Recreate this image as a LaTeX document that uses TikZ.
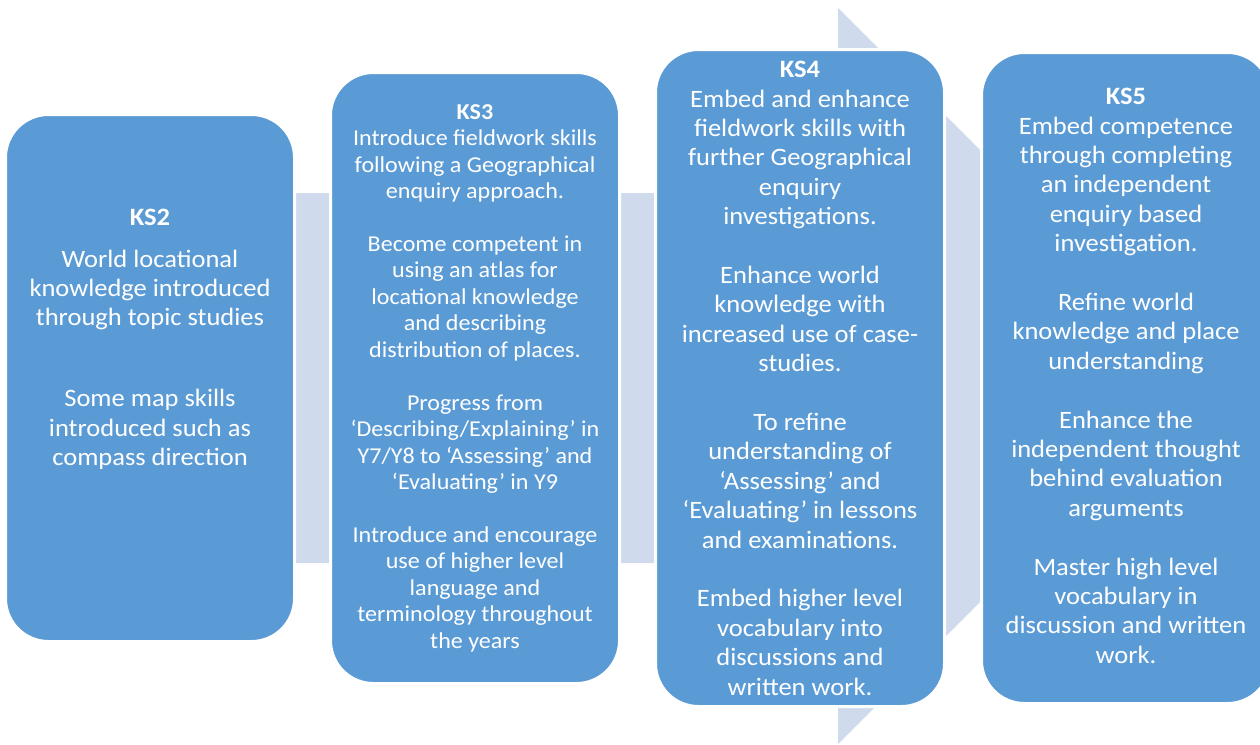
\documentclass[tikz,border=0pt]{standalone}
\usepackage{fontspec}
\setmainfont{Carlito}[FakeStretch=1.06]
\definecolor{boxblue}{HTML}{5B9BD5}
\definecolor{arrowblue}{HTML}{CFDAEC}
\tikzset{
  ksbox/.style={rectangle, fill=boxblue, draw=white, line width=3pt, rounded corners=43pt, minimum width=289pt, inner sep=0pt},
  kstext/.style={anchor=north, inner sep=0pt, align=center, text=white},
  bigfont/.style={font=\fontsize{25}{29.4}\selectfont},
  smallfont/.style={font=\fontsize{22.7}{26.5}\selectfont},
}
\begin{document}
\begin{tikzpicture}[x=1pt,y=-1pt]
\useasboundingbox (0,0) rectangle (1260,744);
\clip (0,0) rectangle (1260,744);
\fill[arrowblue] (60,193) -- (838,193) -- (838,8) -- (1206,376) -- (838,744) -- (838,563) -- (60,563) -- cycle;

\node[ksbox, minimum height=527pt] (b2) at (150,378) {};
\node[ksbox, minimum height=611pt] (b3) at (475,378) {};
\node[ksbox, minimum height=657pt] (b4) at (800,378) {};
\node[ksbox, minimum height=651pt] (b5) at (1126,378) {};

\node[kstext, bigfont] (t2) at (150,209) {\textbf{KS2}\\[12pt]
World locational\\
knowledge introduced\\
through topic studies\\[51.5pt]
Some map skills\\
introduced such as\\
compass direction};

\node[kstext, smallfont] (t3) at (475,104) {\textbf{KS3}\\
Introduce fieldwork skills\\
following a Geographical\\
enquiry approach.\\[26.3pt]
Become competent in\\
using an atlas for\\
locational knowledge\\
and describing\\
distribution of places.\\[26.3pt]
Progress from\\
‘Describing/Explaining’ in\\
Y7/Y8 to ‘Assessing’ and\\
‘Evaluating’ in Y9\\[26.3pt]
Introduce and encourage\\
use of higher level\\
language and\\
terminology throughout\\
the years};

\node[kstext, bigfont] (t4) at (800,61) {\textbf{KS4}\\
Embed and enhance\\
fieldwork skills with\\
further Geographical\\
enquiry\\
investigations.\\[29.4pt]
Enhance world\\
knowledge with\\
increased use of case-\\
studies.\\[29.4pt]
To refine\\
understanding of\\
‘Assessing’ and\\
‘Evaluating’ in lessons\\
and examinations.\\[29.4pt]
Embed higher level\\
vocabulary into\\
discussions and\\
written work.};

\node[kstext, bigfont] (t5) at (1126,88) {\textbf{KS5}\\
Embed competence\\
through completing\\
an independent\\
enquiry based\\
investigation.\\[29.4pt]
Refine world\\
knowledge and place\\
understanding\\[29.4pt]
Enhance the\\
independent thought\\
behind evaluation\\
arguments\\[29.4pt]
Master high level\\
vocabulary in\\
discussion and written\\
work.};
\end{tikzpicture}
\end{document}
